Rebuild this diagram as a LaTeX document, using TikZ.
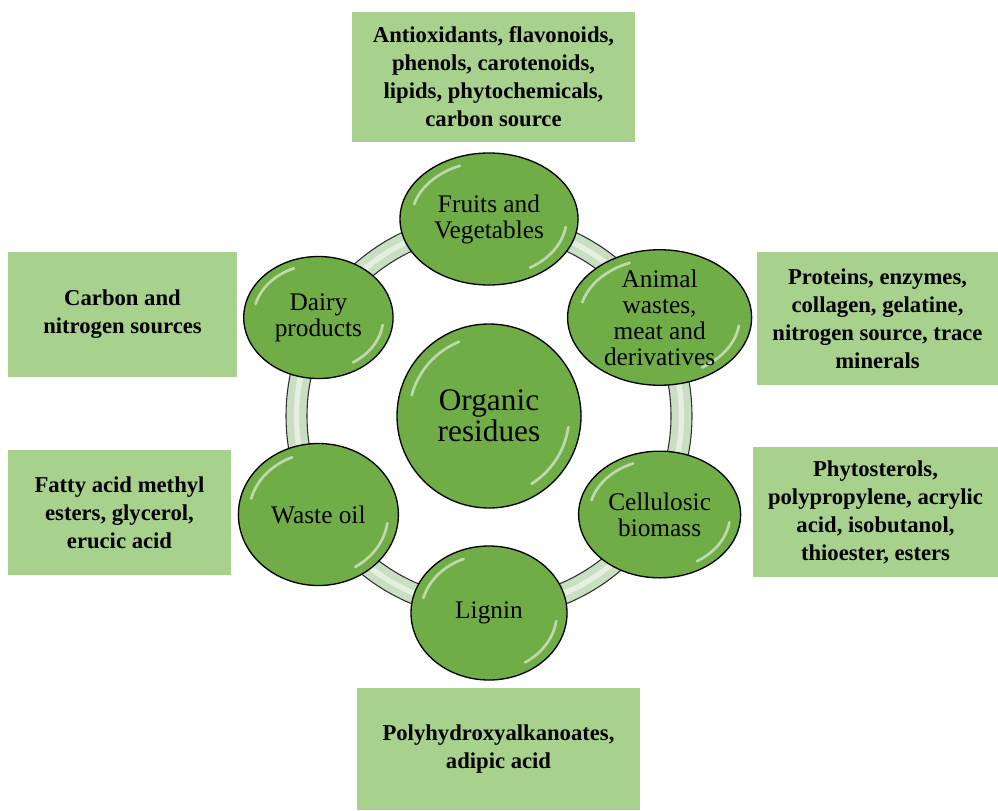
\documentclass[tikz,border=0pt]{standalone}
\usepackage{fontspec}
\setmainfont{Liberation Serif}
\usepackage{xcolor}
\usepackage{tikz}
\usetikzlibrary{calc,shapes.geometric}
\definecolor{ResGreen}{HTML}{70AD47}
\definecolor{ResBox}{HTML}{A9D18E}
\definecolor{ResRing}{HTML}{C9DFC2}
\definecolor{ResLine}{HTML}{2E2E2E}

\tikzset{
  gloss/.style={path picture={
    \draw[white,opacity=.55,line width=2pt,line cap=round]
      let \p1=(path picture bounding box.center),\p2=(path picture bounding box.north east),
          \n1={\x2-\x1},\n2={\y2-\y1} in
      ({\x1+0.87*\n1*cos(112)},{\y1+0.87*\n2*sin(112)}) arc[start angle=112,end angle=165,x radius=0.87*\n1,y radius=0.87*\n2]
      ({\x1+0.87*\n1*cos(-58)},{\y1+0.87*\n2*sin(-58)}) arc[start angle=-58,end angle=-8,x radius=0.87*\n1,y radius=0.87*\n2];
  }},
  src/.style={ellipse,draw=black,line width=1pt,fill=ResGreen,gloss,inner sep=0pt,align=center,
    font=\fontsize{19}{19.5}\selectfont},
  prod/.style={fill=ResBox,inner sep=0pt,align=center,font=\fontsize{17}{21}\selectfont\bfseries}
}

\begin{document}
\begin{tikzpicture}[x=0.75pt,y=0.75pt]
  \useasboundingbox (0,0) rectangle (998,-810);
  % centre and ring
  \node[src,circle,minimum size=138pt,font=\fontsize{23.5}{23.5}\selectfont] (org) at (489,-416) {Organic\\residues};
  \path[draw=ResLine,line width=0.8pt,fill=ResRing,even odd rule] (org.center) circle[radius=203] circle[radius=182];
  \draw[white,opacity=.5,line width=4pt] (org.center) circle[radius=192.5];
  % sources
  \node[src,minimum width=133.5pt,minimum height=99pt] (fruits) at ($(org)+(90:197)$) {Fruits and\\Vegetables};
  \node[src,minimum width=138pt,minimum height=100.5pt] (animal) at ($(org)+(30:197)$) {Animal\\wastes,\\meat and\\derivatives};
  \node[src,minimum width=121.5pt,minimum height=95pt] (cellu) at ($(org)+(-30:197)$) {Cellulosic\\biomass};
  \node[src,minimum width=117pt,minimum height=100.5pt] (lignin) at ($(org)+(-90:197)$) {Lignin};
  \node[src,minimum width=120pt,minimum height=106.5pt] (oil) at ($(org)+(210:197)$) {Waste oil};
  \node[src,minimum width=112pt,minimum height=91.5pt] (dairy) at ($(org)+(150:197)$) {Dairy\\products};
  % products
  \node[prod,minimum width=212pt,minimum height=97.5pt] (fruitsprod) at (493.5,-77) {Antioxidants, flavonoids,\\phenols, carotenoids,\\lipids, phytochemicals,\\carbon source};
  \node[prod,minimum width=181pt,minimum height=100pt] (animalprod) at (877.5,-318.5) {Proteins, enzymes,\\collagen, gelatine,\\nitrogen source, trace\\minerals};
  \node[prod,minimum width=184pt,minimum height=97.5pt] (celluprod) at (875.5,-512) {Phytosterols,\\polypropylene, acrylic\\acid, isobutanol,\\thioester, esters};
  \node[prod,minimum width=212pt,minimum height=91.5pt] (ligninprod) at (498.5,-749) {Polyhydroxyalkanoates,\\adipic acid};
  \node[prod,minimum width=167pt,minimum height=94pt] (oilprod) at (119.5,-512.5) {Fatty acid methyl\\esters, glycerol,\\erucic acid};
  \node[prod,minimum width=172pt,minimum height=94pt] (dairyprod) at (122.5,-314.5) {Carbon and\\nitrogen sources};
\end{tikzpicture}
\end{document}
